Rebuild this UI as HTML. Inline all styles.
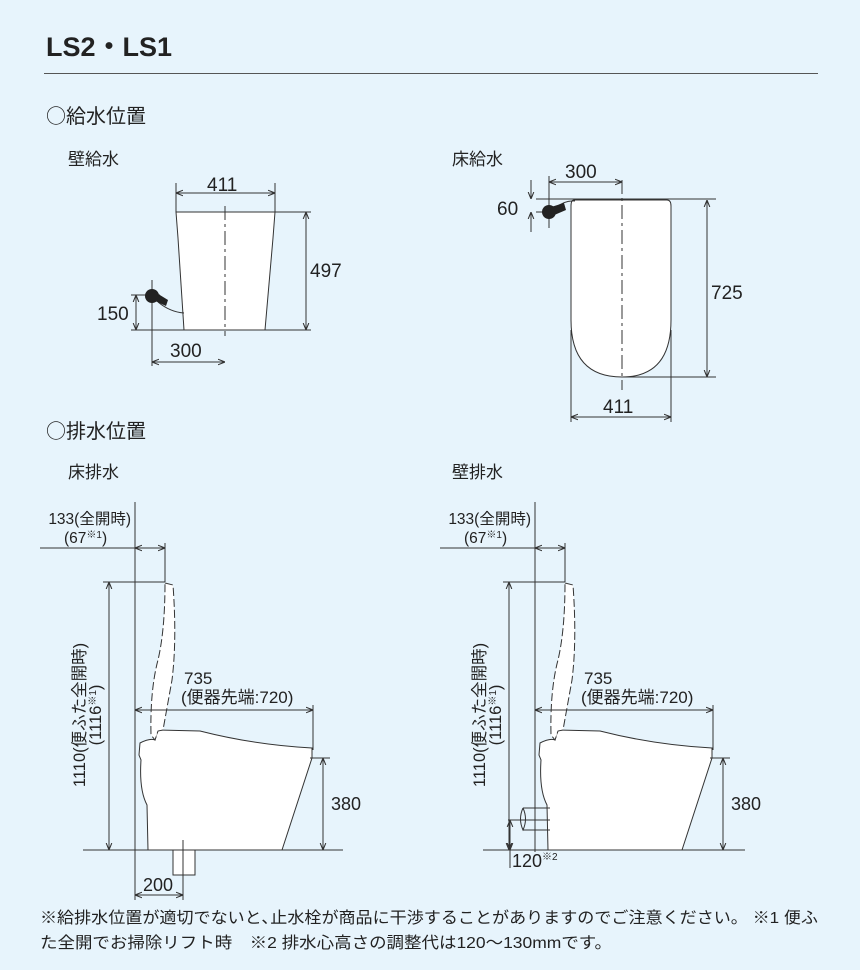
<!DOCTYPE html>
<html><head><meta charset="utf-8"><style>
html,body{margin:0;padding:0;background:#e7f4fc;}
svg{display:block;font-family:"Liberation Sans","Noto Sans CJK JP",sans-serif;}
</style></head><body>
<svg width="860" height="970" viewBox="0 0 860 970" xmlns="http://www.w3.org/2000/svg">
<defs>
<marker id="a" viewBox="0 0 10 10" refX="10" refY="5" markerWidth="7" markerHeight="7" orient="auto-start-reverse"><path d="M0,1 L10,5 L0,9" fill="none" stroke="#333" stroke-width="1.5"/></marker>
</defs>
<rect width="860" height="970" fill="#e7f4fc"/>
<g fill="#222">
<text x="46" y="56" font-size="27" font-weight="bold">LS2・LS1</text>
<text x="46" y="123" font-size="20"><tspan font-family="Noto Sans CJK JP">○</tspan>給水位置</text>
<text x="68" y="165" font-size="17">壁給水</text>
<text x="452" y="165" font-size="17">床給水</text>
<text x="46" y="438" font-size="20"><tspan font-family="Noto Sans CJK JP">○</tspan>排水位置</text>
<text x="68" y="478" font-size="17">床排水</text>
<text x="452" y="478" font-size="17">壁排水</text>
</g>
<line x1="44" y1="73.5" x2="818" y2="73.5" stroke="#555" stroke-width="1"/>

<g stroke="#333" stroke-width="1" fill="none">
<path d="M176,212 L275,212 L273,238 L265,330 L184,330 L178,238 Z" fill="#fff"/>
<line x1="225" y1="206" x2="225" y2="336" stroke-dasharray="14,4,3,4"/>
<line x1="176" y1="183" x2="176" y2="212"/><line x1="275" y1="183" x2="275" y2="212"/>
<line x1="176" y1="193" x2="275" y2="193" marker-start="url(#a)" marker-end="url(#a)"/>
<line x1="275" y1="212" x2="311" y2="212"/><line x1="131" y1="330" x2="311" y2="330"/>
<line x1="306" y1="212" x2="306" y2="330" marker-start="url(#a)" marker-end="url(#a)"/>
<line x1="131" y1="295" x2="160" y2="295"/>
<line x1="136" y1="295" x2="136" y2="330" marker-start="url(#a)" marker-end="url(#a)"/>
<line x1="152" y1="280" x2="152" y2="366"/>
<line x1="152" y1="362" x2="225" y2="362" marker-start="url(#a)" marker-end="url(#a)"/>
<path d="M158,302 Q170,312 184,313"/>
<path d="M574,200 L667,200 Q671,200 671,206 L671,320 Q671,377 622,377 Q571,377 571,320 L571,206 Q571,200 574,200 Z" fill="#fff"/>
<line x1="622" y1="180" x2="622" y2="390" stroke-dasharray="14,4,3,4"/>
<line x1="536" y1="199" x2="716" y2="199"/><line x1="536" y1="212" x2="545" y2="212"/>
<line x1="531" y1="180" x2="531" y2="199" marker-end="url(#a)"/><line x1="531" y1="232" x2="531" y2="212" marker-end="url(#a)"/>
<line x1="549" y1="176" x2="549" y2="228"/>
<line x1="549" y1="182" x2="622" y2="182" marker-start="url(#a)" marker-end="url(#a)"/>
<line x1="622" y1="377" x2="716" y2="377"/>
<line x1="707" y1="200" x2="707" y2="377" marker-start="url(#a)" marker-end="url(#a)"/>
<line x1="571" y1="330" x2="571" y2="422"/><line x1="671" y1="330" x2="671" y2="422"/>
<line x1="571" y1="417" x2="671" y2="417" marker-start="url(#a)" marker-end="url(#a)"/>
<path d="M555,208 Q565,200 575,201"/>
</g>
<g fill="#222">
<circle cx="152" cy="296" r="7"/><path d="M155,292 L168,300 L166,306 L153,300 Z"/>
<circle cx="549" cy="212" r="7"/><path d="M552,216 L566,210 L564,203 L551,207 Z"/>
</g>
<g fill="#222" font-size="19">
<text x="207" y="191">411</text><text x="310" y="277">497</text>
<text x="97" y="320">150</text><text x="170" y="357">300</text>
<text x="565" y="178">300</text><text x="497" y="215">60</text>
<text x="711" y="299">725</text><text x="603" y="413">411</text>
</g>

<g id="d">
<g stroke="#333" stroke-width="1" fill="none">
<path d="M140,743 Q150,738 155,740 L158,730 L200,731 Q255,745 312,748 L312,758 L282,850 L148,850 L147,805 Q139,790 141,760 L139,755 Z" fill="#fff"/>
<path d="M165,583 L173,585 Q177,640 172,680 L163,730 L158,731 L155,740 L151,735 Q150,690 158,660 Q165,630 165,583 Z" fill="#fff" stroke-dasharray="8,3"/>
<line x1="135" y1="548" x2="165" y2="548" marker-start="url(#a)" marker-end="url(#a)"/>
<line x1="40" y1="548" x2="135" y2="548"/>
<line x1="165" y1="543" x2="165" y2="582"/>
<line x1="103" y1="582" x2="165" y2="582"/>
<line x1="109" y1="582" x2="109" y2="850" marker-start="url(#a)" marker-end="url(#a)"/>
<line x1="135" y1="710" x2="313" y2="710" marker-start="url(#a)" marker-end="url(#a)"/>
<line x1="313" y1="705" x2="313" y2="750"/>
<line x1="310" y1="758" x2="330" y2="758"/>
<line x1="323" y1="758" x2="323" y2="850" marker-start="url(#a)" marker-end="url(#a)"/>
</g>
<g fill="#222">
<text x="131" y="524" font-size="15.5" text-anchor="end">133(全開時)</text>
<text x="64" y="543" font-size="15.5">(67<tspan font-size="10" dy="-5">※1</tspan><tspan dy="5">)</tspan></text>
<text x="184" y="684" font-size="17">735</text>
<text x="181" y="703" font-size="17">(便器先端:720)</text>
<text x="331" y="810" font-size="18">380</text>
<text transform="translate(85,715) rotate(-90)" font-size="16.5" text-anchor="middle">1110(便ふた全開時)</text>
<text transform="translate(101,715) rotate(-90)" font-size="16.5" text-anchor="middle">(1116<tspan font-size="10" dy="-5">※1</tspan><tspan dy="5">)</tspan></text>
</g>
</g>
<use href="#d" x="400"/>
<g stroke="#333" stroke-width="1" fill="none">
<line x1="135" y1="502" x2="135" y2="900"/>
<line x1="83" y1="850" x2="343" y2="850"/>
<rect x="173" y="850" width="22" height="25" fill="#fff"/>
<line x1="183" y1="840" x2="183" y2="900"/>
<line x1="135" y1="895" x2="183" y2="895" marker-start="url(#a)" marker-end="url(#a)"/>
<line x1="535" y1="502" x2="535" y2="852"/>
<line x1="483" y1="850" x2="745" y2="850"/>
<path d="M523,808 L550,808 M523,830 L550,830 M523,808 Q518,819 523,830 Q528,819 523,808"/>
<line x1="508" y1="820" x2="550" y2="820"/>
<line x1="510" y1="820" x2="510" y2="850" marker-start="url(#a)" marker-end="url(#a)"/>
<line x1="510" y1="850" x2="510" y2="868"/>
</g>
<g fill="#222">
<text x="143" y="891" font-size="18">200</text>
<text x="512" y="867" font-size="18">120<tspan font-size="10" dy="-7">※2</tspan></text>
<text x="40" y="923" font-size="16" textLength="778" lengthAdjust="spacingAndGlyphs">※給排水位置が適切でないと､止水栓が商品に干渉することがありますのでご注意ください。 ※1 便ふ</text>
<text x="40" y="948" font-size="16" textLength="572" lengthAdjust="spacingAndGlyphs">た全開でお掃除リフト時　※2 排水心高さの調整代は120～130mmです。</text>
</g>
</svg>
</body></html>
